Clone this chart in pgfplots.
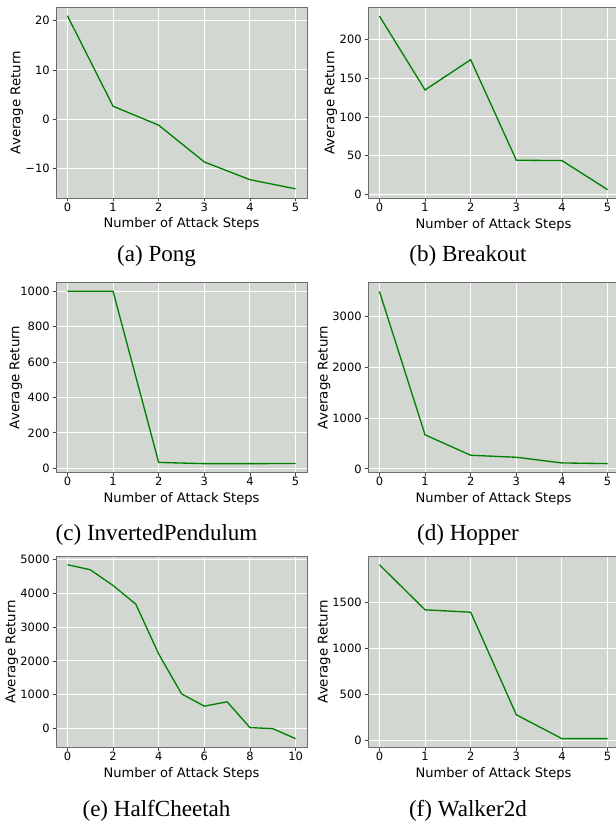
\documentclass[border=0pt]{standalone}
\usepackage{pgfplots}
\pgfplotsset{compat=1.18}
\usepackage{fontspec}
\setmainfont{DejaVu Sans}
\newfontfamily\capfont{Liberation Serif}
\definecolor{bgc}{RGB}{211,215,210}
\definecolor{spinec}{RGB}{110,110,110}
\definecolor{lineg}{RGB}{0,128,0}
\pgfplotsset{
  mystyle/.style={
    scale only axis,
    width=188.25pt,
    axis background/.style={fill=bgc},
    grid=major,
    major grid style={white, line width=0.8pt},
    axis line style={spinec, line width=0.7pt},
    tick align=outside, tick pos=left,
    major tick length=2.6pt,
    tick style={black!75, line width=0.6pt},
    xlabel={Number of Attack Steps},
    ylabel={Average Return},
    tick label style={font=\fontsize{8.6}{10}\selectfont},
    label style={font=\fontsize{9.8}{12}\selectfont},
    xticklabel style={inner sep=1pt},
    xlabel style={inner sep=0pt, yshift=-3.5pt},
    every axis y label/.style={rotate=90, anchor=center},
    yticklabel style={inner sep=2pt},
    xtick={0,...,5}, xmin=-0.25, xmax=5.25,
    /pgf/number format/assume math mode=true,
    /pgf/number format/1000 sep={},
    cycle list={{lineg, mark=none}},
    every axis plot post/.append style={line width=1pt},
  },
  ylabd/.style={ylabel style={at={([xshift=-#1]axis description cs:0,0.5)}}},
}
\tikzset{capnode/.style={anchor=base, font=\capfont\fontsize{17.3}{20}\selectfont}}
\begin{document}
\begin{tikzpicture}
\useasboundingbox (0,0) rectangle (462pt,-617.25pt);
\clip (0,0) rectangle (462pt,-617.25pt);

% (a) Pong
\begin{axis}[mystyle, ylabd=29.25pt, at={(42pt,-5.25pt)}, anchor=north west, height=143.25pt,
  ymin=-15.96, ymax=22.76, ytick={-10,0,10,20}, yticklabels={−10,0,10,20}]
\addplot coordinates {(0,21) (1,2.65) (2,-1.2) (3,-8.65) (4,-12.25) (5,-14.1)};
\end{axis}
\node[capnode] at (117.4pt,-196.5pt) {(a) Pong};

% (b) Breakout
\begin{axis}[mystyle, ylabd=27.75pt, at={(276pt,-5.5pt)}, anchor=north west, height=143.25pt,
  ymin=-4.8, ymax=241.2, ytick={0,50,100,150,200}]
\addplot coordinates {(0,230) (1,134.8) (2,173.8) (3,44.3) (4,43.8) (5,6.4)};
\end{axis}
\node[capnode] at (351pt,-196.5pt) {(b) Breakout};

% (c) InvertedPendulum
\begin{axis}[mystyle, ylabd=30pt, at={(42pt,-212pt)}, anchor=north west, height=142.2pt,
  ymin=-22.7, ymax=1048.7, ytick={0,200,400,600,800,1000}]
\addplot coordinates {(0,1000) (1,1000) (2,33) (3,26) (4,26) (5,27)};
\end{axis}
\node[capnode] at (117.4pt,-405pt) {(c) InvertedPendulum};

% (d) Hopper
\begin{axis}[mystyle, ylabd=32.8pt, at={(276pt,-212pt)}, anchor=north west, height=142.2pt,
  ymin=-66.6, ymax=3667.6, ytick={0,1000,2000,3000}]
\addplot coordinates {(0,3497) (1,671) (2,268) (3,229) (4,117) (5,104)};
\end{axis}
\node[capnode] at (351pt,-405pt) {(d) Hopper};

% (e) HalfCheetah
\begin{axis}[mystyle, ylabd=33pt, at={(42pt,-417pt)}, anchor=north west, height=143.5pt,
  xmin=-0.5, xmax=10.5, xtick={0,2,4,6,8,10},
  ymin=-553, ymax=5101, ytick={0,1000,2000,3000,4000,5000}]
\addplot coordinates {(0,4844) (1,4696) (2,4230) (3,3676) (4,2206) (5,1029) (6,664) (7,792) (8,30) (9,0) (10,-296)};
\end{axis}
\node[capnode] at (117.4pt,-612pt) {(e) HalfCheetah};

% (f) Walker2d
\begin{axis}[mystyle, ylabd=32.8pt, at={(276pt,-417pt)}, anchor=north west, height=143.5pt,
  ymin=-77.5, ymax=2000.5, ytick={0,500,1000,1500}]
\addplot coordinates {(0,1906) (1,1416) (2,1390) (3,276) (4,17) (5,17)};
\end{axis}
\node[capnode] at (351pt,-612pt) {(f) Walker2d};
\end{tikzpicture}
\end{document}
